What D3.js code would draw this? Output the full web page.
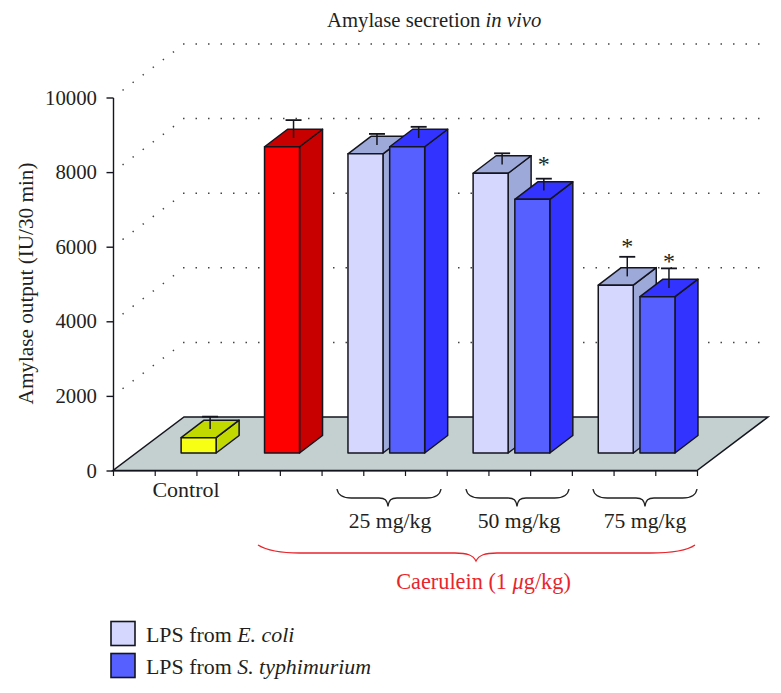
<!DOCTYPE html>
<html><head><meta charset="utf-8">
<script src="https://cdn.jsdelivr.net/npm/d3@7"></script>
<style>
html,body{margin:0;padding:0;background:#fff}
svg{display:block}
text{font-family:"Liberation Serif",serif;fill:#231f20}
</style></head><body>
<svg id="c" width="781" height="693"></svg>
<script>
const slotNames = ["s0","Control","s2","Caerulein","s4","E25","S25","s7","E50","S50","s10","E75","S75","s13"];
const barCategories = ["Control","Caerulein","E25","S25","E50","S50","E75","S75"];
const barValues = [410,8210,8020,8210,7500,6800,4500,4190];
const barErrors = [330,480,300,300,300,320,525,525];
const starCategories = ["S50","E75","S75"];
const starLevels = [8305,6100,5700];
const yTicks = [0,2000,4000,6000,8000,10000];
const gridValues = [2000,4000,6000,8000,10000];
const doseLabels = ["25 mg/kg","50 mg/kg","75 mg/kg"];

const palette = {
  Control:["#f6ff14","#c2d900","#c2d900"],
  Caerulein:["#ff0000","#c80000","#c80000"],
  E:["#d5d7ff","#9da9d9","#9da9d9"],
  S:["#5560ff","#3333ff","#3333ff"]
};
const colorOf = c => palette[c] || palette[c[0]];

const svg = d3.select("#c");
const y = d3.scaleLinear().domain([0,10000]).range([470.5,97.5]);
const x = d3.scaleBand().domain(slotNames).range([113,697]);
const xTick = d3.scaleLinear().domain([0,14]).range([113,697]);
const DX = 71, DY = -53.5;      // floor depth
const bDX = 23, bDY = -17.5;    // bar depth
const base = y(0) + bDY;        // bar foot, set on the floor
const ink = "#15151f";

// floor
svg.append("polygon")
  .attr("points",[[113,y(0)],[697,y(0)],[697+DX,y(0)+DY],[113+DX,y(0)+DY]].join(" "))
  .attr("fill","#c4cfcf").attr("stroke",ink).attr("stroke-width",1.5).attr("stroke-linejoin","miter");

// dotted walls
const grid = svg.append("g").attr("fill","none").attr("stroke","#444").attr("stroke-width",1.5);
grid.selectAll("path").data(gridValues).join("path").attr("stroke-dasharray","1.4 11.2")
  .attr("d",v=>`M${113+DX-10},${y(v)+DY+7.6} L${113+6},${y(v)-4.5}`);
grid.selectAll("line").data(gridValues).join("line").attr("stroke-dasharray","1.5 11")
  .attr("x1",113+DX-1).attr("x2",760).attr("y1",v=>y(v)+DY).attr("y2",v=>y(v)+DY);

// axes
const gy = svg.append("g").attr("transform","translate(113,0)")
  .call(d3.axisLeft(y).tickValues(yTicks).tickSize(7).tickSizeOuter(0).tickFormat(d3.format("d")).tickPadding(9));
gy.selectAll("path,line").attr("stroke",ink).attr("stroke-width",1.4);
gy.selectAll("line").attr("transform","translate(0.5,0)");
gy.selectAll("text").attr("font-size",20.8).attr("font-family","Liberation Serif").attr("fill","#231f20");

const gx = svg.append("g").attr("transform",`translate(0,${y(0)})`)
  .call(d3.axisBottom(xTick).tickValues(d3.range(0,15)).tickSize(5.5).tickSizeOuter(0).tickFormat(""));
gx.selectAll("path,line").attr("stroke",ink).attr("stroke-width",1.2);

// bars
const bw = 35, inset = 3.4;
const rows = barCategories.map((c,i)=>({c,v:barValues[i],e:barErrors[i]}));
const bars = svg.append("g").selectAll("g").data(rows).join("g")
  .attr("stroke",ink).attr("stroke-width",1.5).attr("stroke-linejoin","round");
const left = d => x(d.c)+inset+bDX;
const top_ = d => base - (y(0)-y(d.v));
bars.append("path").attr("fill",d=>colorOf(d.c)[1]) // side
  .attr("d",d=>`M${left(d)+bw},${top_(d)} L${left(d)+bw+bDX},${top_(d)+bDY} L${left(d)+bw+bDX},${base+bDY} L${left(d)+bw},${base} Z`);
bars.append("path").attr("fill",d=>colorOf(d.c)[2]) // top
  .attr("d",d=>`M${left(d)},${top_(d)} L${left(d)+bDX},${top_(d)+bDY} L${left(d)+bw+bDX},${top_(d)+bDY} L${left(d)+bw},${top_(d)} Z`);
bars.append("rect").attr("fill",d=>colorOf(d.c)[0]) // front
  .attr("x",left).attr("width",bw).attr("y",top_).attr("height",d=>base-top_(d));
// error bars
const cx = d => left(d)+bw/2+bDX/2, cy = d => top_(d)+bDY/2, ey = d => cy(d)-(y(0)-y(d.e));
bars.append("line").attr("x1",cx).attr("x2",cx).attr("y1",cy).attr("y2",ey).attr("stroke-width",1.5);
bars.append("line").attr("x1",d=>cx(d)-8).attr("x2",d=>cx(d)+8).attr("y1",ey).attr("y2",ey).attr("stroke-width",1.8);
// significance
svg.append("g").selectAll("text").data(starCategories).join("text")
  .attr("x",c=>cx(rows.find(r=>r.c===c))).attr("y",(c,i)=>y(starLevels[i])+11)
  .attr("text-anchor","middle").attr("font-size",24).text("*");

// braces
function brace(x0,x1,xm,y0,h1,h2){
  const q = 9;
  return `M${x0},${y0} C${x0+1},${y0+h1*0.7} ${x0+q*0.6},${y0+h1} ${x0+q*1.6},${y0+h1} L${xm-q},${y0+h1} C${xm-3},${y0+h1} ${xm-1},${y0+h1+2} ${xm},${y0+h1+h2} C${xm+1},${y0+h1+2} ${xm+3},${y0+h1} ${xm+q},${y0+h1} L${x1-q*1.6},${y0+h1} C${x1-q*0.6},${y0+h1} ${x1-1},${y0+h1*0.7} ${x1},${y0}`;
}
const braces = [[337,441,388],[466,569,517],[593,697,645]];
svg.append("g").selectAll("path").data(braces).join("path")
  .attr("d",b=>brace(b[0],b[1],b[2],489,9,8.5)).attr("fill","none").attr("stroke","#222").attr("stroke-width",1.3);
svg.append("path").attr("d",`M258,545 C266,550 280,553 300,553 L455,553 C467,553 473,555 476,561 C479,555 485,553 497,553 L650,553 C672,553 688,550 695,545`)
  .attr("fill","none").attr("stroke","#e8252b").attr("stroke-width",1.3);

// text
const rich = (sel,parts)=>parts.forEach(p=>sel.append("tspan").attr("font-style",p[1]?"italic":"normal").text(p[0]));
rich(svg.append("text").attr("x",327).attr("y",27).attr("font-size",20.7),
  [["Amylase secretion ",0],["in vivo",1]]);
svg.append("text").attr("transform","translate(33,283.5) rotate(-90)").attr("text-anchor","middle").attr("font-size",21.2)
  .text("Amylase output (IU/30 min)");
svg.append("text").attr("x",186).attr("y",497).attr("text-anchor","middle").attr("font-size",22).text("Control");
svg.append("g").selectAll("text").data(doseLabels).join("text")
  .attr("x",(d,i)=>[390,519,645][i]).attr("y",528).attr("text-anchor","middle").attr("font-size",21.7).text(d=>d);
const cae = svg.append("text").attr("x",483.5).attr("y",589).attr("text-anchor","middle").attr("font-size",22.3).style("fill","#e8252b");
rich(cae,[["Caerulein (1 ",0],["\u03bc",1],["g/kg)",0]]);

// legend
const legend = [[621.5,"#d5d7ff",[["LPS from ",0],["E. coli",1]],642],[653.5,"#5560ff",[["LPS from ",0],["S. typhimurium",1]],674]];
legend.forEach(l=>{
  svg.append("rect").attr("x",111).attr("y",l[0]).attr("width",24).attr("height",24).attr("fill",l[1]).attr("stroke",ink).attr("stroke-width",1.6);
  rich(svg.append("text").attr("x",146).attr("y",l[3]).attr("font-size",21.9),l[2]);
});
</script></body></html>
